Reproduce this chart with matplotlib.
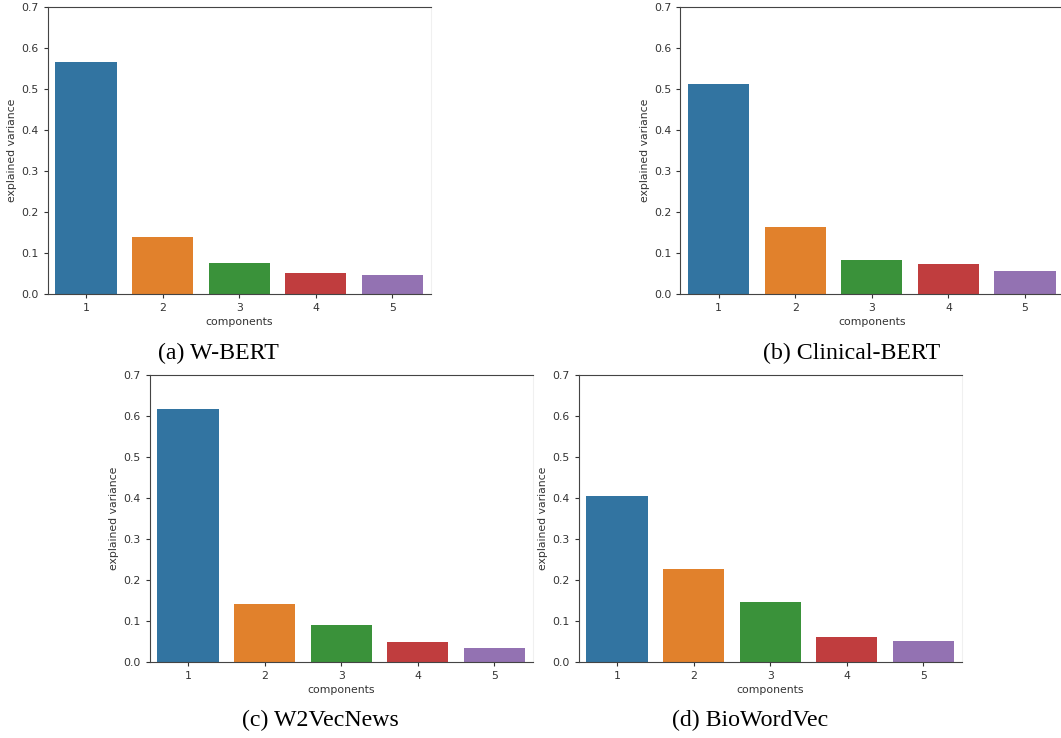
import matplotlib
matplotlib.use("Agg")
import matplotlib.pyplot as plt

components = ["1", "2", "3", "4", "5"]
wbert = [0.564, 0.138, 0.0756, 0.051, 0.0455]
clinical_bert = [0.512, 0.163, 0.081, 0.0715, 0.0545]
w2vecnews = [0.617, 0.141, 0.0894, 0.0496, 0.0333]
biowordvec = [0.406, 0.228, 0.146, 0.0618, 0.052]
captions = ["(a) W-BERT", "(b) Clinical-BERT", "(c) W2VecNews", "(d) BioWordVec"]
colors = ["#3274a1", "#e1812c", "#3a923a", "#c03d3e", "#9372b2"]

fig = plt.figure(figsize=(10.61, 7.38), dpi=100)

# axes boxes in pixels: left, top
boxes = [(47.7, 6.7), (680.3, 6.7), (149.7, 375.0), (578.7, 375.0)]
W, H = 383.0, 287.0
caption_pos = [(218, 353), (852, 353), (320.5, 720), (750, 720)]

for (lx, ty), vals, cap, (cx, cy) in zip(boxes, [wbert, clinical_bert, w2vecnews, biowordvec],
                                         captions, caption_pos):
    ax = fig.add_axes([lx / 1061, (738 - ty - H) / 738, W / 1061, H / 738])
    ax.bar(range(len(components)), vals, width=0.8, color=colors)
    ax.set_xticks(range(len(components)))
    ax.set_xticklabels(components)
    ax.set_xlim(-0.5, 4.5)
    ax.set_ylim(0, 0.7)
    ax.set_yticks([0.0, 0.1, 0.2, 0.3, 0.4, 0.5, 0.6, 0.7])
    ax.tick_params(labelsize=7.8, colors="#333333", length=3)
    ax.set_xlabel("components", fontsize=7.8, color="#333333", labelpad=3)
    ax.set_ylabel("explained variance", fontsize=7.8, color="#333333", labelpad=3)
    for s in ["left", "bottom", "top"]:
        ax.spines[s].set_color("#444444")
    ax.spines["right"].set_color("#f0f0f0")
    fig.text(cx / 1061, 1 - cy / 738, cap, family="Liberation Serif", fontsize=17.2,
             ha="center", va="center")

fig.savefig("out.png", dpi=100)
